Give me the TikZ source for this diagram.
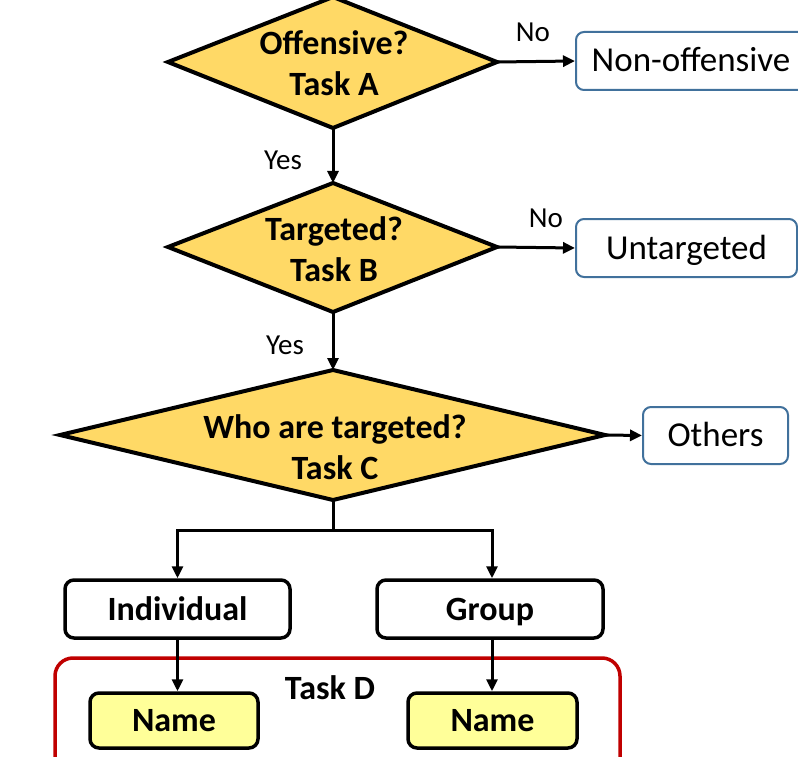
\documentclass[tikz,border=0pt]{standalone}
\usepackage{fontspec}
\setmainfont{Carlito}
\usetikzlibrary{arrows.meta}
\definecolor{gold}{HTML}{FFD966}
\definecolor{lyel}{HTML}{FFFF99}
\definecolor{bbord}{HTML}{41719C}
\definecolor{dred}{HTML}{C00000}
\begin{document}
\begin{tikzpicture}[x=1pt,y=-1pt,
 dia/.style={draw=black,line width=4pt,fill=gold,line join=miter},
 dtext/.style={font=\fontsize{34}{41}\selectfont\bfseries,align=center,inner sep=0pt},
 outbox/.style={draw=bbord,line width=2pt,rounded corners=8pt,font=\fontsize{35}{40}\selectfont,inner sep=0pt,text height=26pt,text depth=4pt},
 blkbox/.style={draw=black,line width=3.5pt,rounded corners=9pt,fill=white,font=\fontsize{34}{40}\selectfont\bfseries,inner sep=0pt,text height=26pt,text depth=4pt},
 namebox/.style={blkbox,fill=lyel},
 arr/.style={line width=3pt,-{Triangle[length=12pt,width=11pt]}},
 lbl/.style={font=\fontsize{29}{34}\selectfont,inner sep=0pt}
]
\useasboundingbox (0,0) rectangle (798,757);
\clip (0,0) rectangle (798,757);
\fill[white] (0,0) rectangle (798,757);
% diamond A
\coordinate (aT) at (333,-3);
\coordinate (aR) at (497,62);
\coordinate (aB) at (333,128);
\coordinate (aL) at (168,62);
\draw[dia] (aT) -- (aR) -- (aB) -- (aL) -- cycle;
\node[dtext] (aText) at (334,63) {Offensive?\\Task A};
% diamond B
\coordinate (bT) at (333,183);
\coordinate (bR) at (497,247);
\coordinate (bB) at (333,312);
\coordinate (bL) at (168,247);
\draw[dia] (bT) -- (bR) -- (bB) -- (bL) -- cycle;
\node[dtext] (bText) at (334,249) {Targeted?\\Task B};
% diamond C
\coordinate (cT) at (333,370);
\coordinate (cR) at (605,435);
\coordinate (cB) at (333,500);
\coordinate (cL) at (60,435);
\draw[dia] (cT) -- (cR) -- (cB) -- (cL) -- cycle;
\node[dtext] (cText) at (335,447) {Who are targeted?\\Task C};
% outcome boxes
\node[outbox,minimum width=230pt,minimum height=58pt] (nonoff) at (691,61) {Non-offensive};
\node[outbox,minimum width=221pt,minimum height=58pt] (untarg) at (686.5,248) {Untargeted};
\node[outbox,minimum width=145pt,minimum height=57pt] (others) at (715.5,435.5) {Others};
% task D
\draw[dred,line width=3.5pt,rounded corners=18pt] (55,658) rectangle (620,790);
\node[font=\fontsize{34}{40}\selectfont\bfseries,inner sep=0pt] (taskd) at (330,688) {Task D};
\node[blkbox,minimum width=225pt,minimum height=58pt] (ind) at (177.5,609) {Individual};
\node[blkbox,minimum width=226pt,minimum height=58pt] (grp) at (490,609) {Group};
\node[namebox,minimum width=168pt,minimum height=55pt] (nameL) at (174,720.5) {Name};
\node[namebox,minimum width=169pt,minimum height=55pt] (nameR) at (492.5,720.5) {Name};
% connectors
\draw[arr] (aR) -- (nonoff.west);
\draw[arr] (bR) -- (untarg.west);
\draw[arr] (cR) -- (others.west);
\draw[arr] (aB) -- (bT);
\draw[arr] (bB) -- (cT);
\coordinate (split) at (333,530);
\draw[line width=3pt] (cB) -- (split);
\draw[arr,line join=miter] (split) -| (ind.north);
\draw[arr,line join=miter] (split) -| ([xshift=2pt]grp.north);
\draw[arr] (ind.south) -- (ind.south |- nameL.north);
\draw[arr] ([xshift=2pt]grp.south) -- ([xshift=2pt]grp.south |- nameR.north);
% labels
\node[lbl] (yes1) at (283,160) {Yes};
\node[lbl] (yes2) at (285,345) {Yes};
\node[lbl] (no1) at (533,32) {No};
\node[lbl] (no2) at (546,218) {No};
\end{tikzpicture}
\end{document}
